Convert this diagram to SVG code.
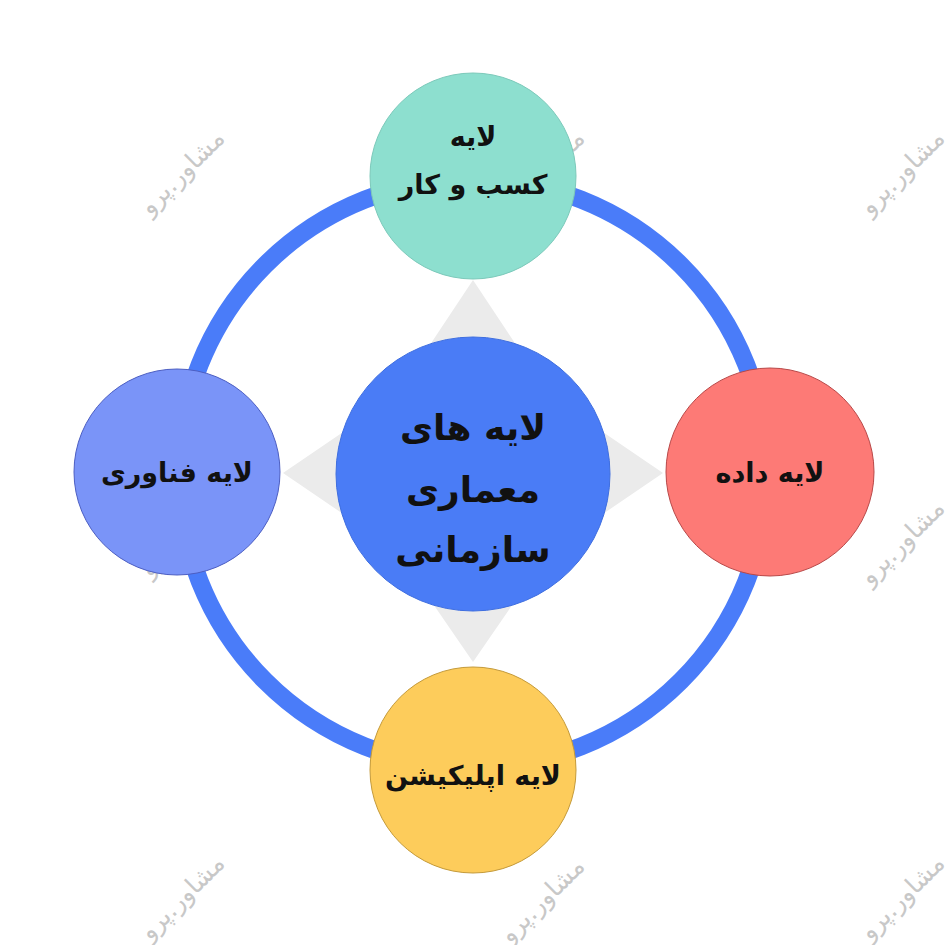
<svg xmlns="http://www.w3.org/2000/svg" width="945" height="945" viewBox="0 0 945 945">
<style>
.wm{font-family:"DejaVu Sans",sans-serif;font-size:25px;fill:#c8c8c8;text-anchor:middle;direction:rtl}
.t{font-family:"DejaVu Sans","Liberation Sans",sans-serif;font-weight:bold;fill:#111;text-anchor:middle;direction:rtl}
.n{font-size:27px}
.c{font-size:36px}
</style>
<rect width="945" height="945" fill="#fff"/>
<g id="watermarks">
<text class="wm" transform="translate(188,178) rotate(-45)">مشاور.پرو</text>
<text class="wm" transform="translate(548,178) rotate(-45)">مشاور.پرو</text>
<text class="wm" transform="translate(908,178) rotate(-45)">مشاور.پرو</text>
<text class="wm" transform="translate(188,540) rotate(-45)">مشاور.پرو</text>
<text class="wm" transform="translate(908,548) rotate(-45)">مشاور.پرو</text>
<text class="wm" transform="translate(188,903) rotate(-45)">مشاور.پرو</text>
<text class="wm" transform="translate(548,906) rotate(-45)">مشاور.پرو</text>
<text class="wm" transform="translate(908,903) rotate(-45)">مشاور.پرو</text>
</g>
<g id="connectors">
<circle cx="473" cy="473" r="294" fill="none" stroke="#4a7cf9" stroke-width="18"/>
<polygon points="473,280 550,396 663,473 550,550 473,662 396,550 283,473 396,396" fill="#ebebeb"/>
</g>
<g id="center">
<circle cx="473" cy="474" r="137" fill="#4a7cf6" stroke="#3e6ee0" stroke-width="1"/>
<text class="t c" x="473" y="440">لایه های</text>
<text class="t c" x="473" y="502">معماری</text>
<text class="t c" x="473" y="562">سازمانی</text>
</g>
<g id="top">
<circle cx="473" cy="176" r="103" fill="#8ddfcf" stroke="#7cc9ba" stroke-width="1"/>
<text class="t n" x="473" y="146">لایه</text>
<text class="t n" x="473" y="194">کسب و کار</text>
</g>
<g id="left">
<circle cx="177" cy="472" r="103" fill="#7a94f8" stroke="#4c5ec2" stroke-width="1"/>
<text class="t n" x="177" y="482">لایه فناوری</text>
</g>
<g id="right">
<circle cx="770" cy="472" r="104" fill="#fd7a76" stroke="#b84848" stroke-width="1"/>
<text class="t n" x="770" y="482">لایه داده</text>
</g>
<g id="bottom">
<circle cx="473" cy="770" r="103" fill="#fdcc5b" stroke="#c49a3a" stroke-width="1"/>
<text class="t n" x="473" y="785">لایه اپلیکیشن</text>
</g>
</svg>
